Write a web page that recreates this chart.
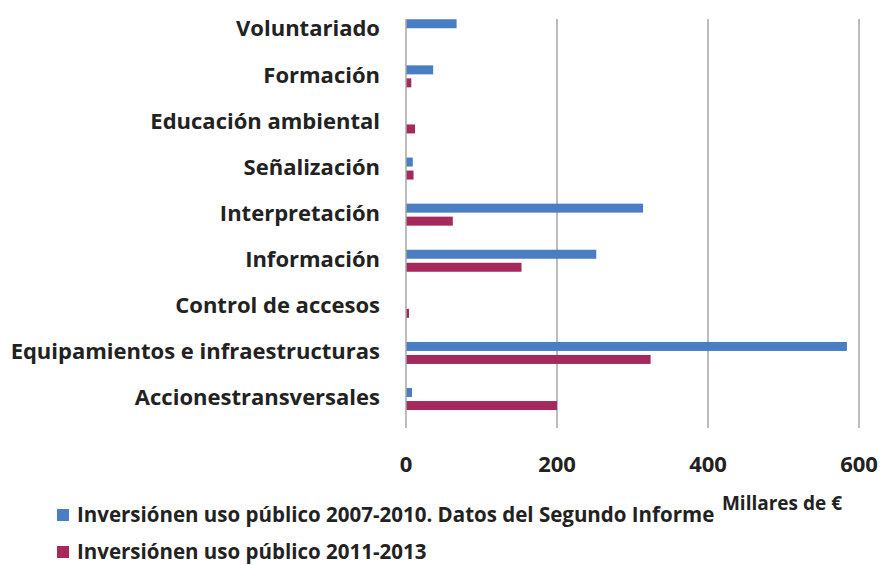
<!DOCTYPE html>
<html>
<head>
<meta charset="utf-8">
<script src="https://cdn.jsdelivr.net/npm/d3@7"></script>
<style>
  body { margin: 0; background: #fff; }
  svg { display: block; }
  text { font-family: 'Open Sans', Lato, sans-serif; fill: #222; font-weight: bold; }
</style>
</head>
<body>
<div class="chart"></div>
<script>
var categories = [
  'Voluntariado',
  'Formación',
  'Educación ambiental',
  'Señalización',
  'Interpretación',
  'Información',
  'Control de accesos',
  'Equipamientos e infraestructuras',
  'Accionestransversales'
]
var inversion2007 = [67, 36, 0, 9, 314, 252, 0, 584, 8]
var inversion2011 = [0, 7, 12, 10, 62, 153, 4, 324, 200]
var seriesNames = [
  'Inversiónen uso público 2007-2010. Datos del Segundo Informe',
  'Inversiónen uso público 2011-2013'
]
var seriesColors = ['#4a7ec2', '#a52a5c']
var xTicks = [0, 200, 400, 600]
var unitLabel = 'Millares de €'

var width = 882
var height = 565
var margin = {top: 19, left: 406, right: 23, bottom: 137}

var svg = d3
  .select('.chart')
  .append('svg')
  .attr('width', width)
  .attr('height', height)

var x = d3
  .scaleLinear()
  .domain([0, 600])
  .range([margin.left, width - margin.right])

var y = d3
  .scaleBand()
  .domain(categories)
  .range([7.2, 422.1])

var barH = 9

svg
  .append('clipPath')
  .attr('id', 'plotclip')
  .append('rect')
  .attr('x', 0)
  .attr('y', margin.top)
  .attr('width', width)
  .attr('height', height - margin.top - margin.bottom + 10)

// gridlines
svg
  .append('g')
  .selectAll('line')
  .data(xTicks.slice(1))
  .enter()
  .append('line')
  .attr('x1', function(d) { return x(d) })
  .attr('x2', function(d) { return x(d) })
  .attr('y1', margin.top)
  .attr('y2', 428)
  .style('stroke', '#a6a6a6')
  .style('stroke-width', 1.5)

var bars = svg.append('g').attr('clip-path', 'url(#plotclip)')

var series = [inversion2007, inversion2011]
series.forEach(function(values, s) {
  bars
    .selectAll('.bar' + s)
    .data(values)
    .enter()
    .append('rect')
    .attr('class', 'bar' + s)
    .attr('x', x(0))
    .attr('y', function(d, i) {
      var c = y(categories[i]) + y.bandwidth() / 2
      return s === 0 ? c - 11 : c + 2
    })
    .attr('width', function(d) { return x(d) - x(0) })
    .attr('height', barH)
    .style('fill', seriesColors[s])
})

// zero axis line
svg
  .append('line')
  .attr('x1', x(0))
  .attr('x2', x(0))
  .attr('y1', margin.top)
  .attr('y2', 428)
  .style('stroke', '#a6a6a6')
  .style('stroke-width', 1.5)

// category labels
svg
  .append('g')
  .selectAll('text')
  .data(categories)
  .enter()
  .append('text')
  .attr('x', 380)
  .attr('y', function(d) { return y(d) + y.bandwidth() / 2 - 1.5 })
  .attr('dy', '0.35em')
  .style('text-anchor', 'end')
  .style('font-size', '22px')
  .text(function(d) { return d })

// x tick labels
svg
  .append('g')
  .selectAll('text')
  .data(xTicks)
  .enter()
  .append('text')
  .attr('x', function(d) { return x(d) })
  .attr('y', 464.5)
  .attr('dy', '0.35em')
  .style('text-anchor', 'middle')
  .style('font-size', '22px')
  .text(function(d) { return d })

// legend
var legend = svg.append('g')
seriesNames.forEach(function(name, s) {
  var ly = 515 + s * 37
  legend
    .append('rect')
    .attr('x', 57)
    .attr('y', ly - 6)
    .attr('width', 12)
    .attr('height', 12)
    .style('fill', seriesColors[s])
  legend
    .append('text')
    .attr('x', 77)
    .attr('y', ly)
    .attr('dy', '0.35em')
    .style('font-size', '20.5px')
    .text(name)
})

svg
  .append('text')
  .attr('x', 842)
  .attr('y', 503)
  .attr('dy', '0.35em')
  .style('text-anchor', 'end')
  .style('font-size', '19px')
  .text(unitLabel)
</script>
</body>
</html>
